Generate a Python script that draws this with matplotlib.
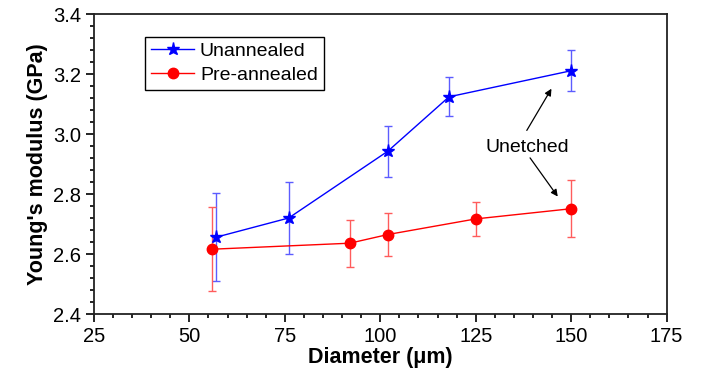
import matplotlib
matplotlib.use("Agg")
import matplotlib.pyplot as plt
from matplotlib.ticker import MultipleLocator, FormatStrFormatter

plt.rcParams['font.family'] = ['Liberation Sans', 'DejaVu Sans']

# Unannealed
d_un = [57, 76, 102, 118, 150]
e_un = [2.656, 2.720, 2.943, 3.124, 3.211]
err_un = [0.147, 0.121, 0.085, 0.065, 0.068]

# Pre-annealed
d_pre = [56, 92, 102, 125, 150]
e_pre = [2.616, 2.636, 2.665, 2.717, 2.751]
err_pre = [0.140, 0.079, 0.073, 0.056, 0.095]

fig = plt.figure(figsize=(7.01, 3.79), dpi=100)
ax = fig.add_axes([0.134, 0.1715, 0.817, 0.7915])

# error bars first, lines + markers on top (legend shows no bars)
ax.errorbar(d_un, e_un, yerr=err_un, fmt='none', elinewidth=1, capsize=3.2,
            capthick=1, ecolor='#5c5cff', zorder=2)
ax.errorbar(d_pre, e_pre, yerr=err_pre, fmt='none', elinewidth=1, capsize=3.2,
            capthick=1, ecolor='#ff5c5c', zorder=2)
ax.plot(d_un, e_un, color='#0000ff', marker='*', markersize=9.5, linewidth=1,
        label='Unannealed', zorder=3)
ax.plot(d_pre, e_pre, color='#ff0000', marker='o', markersize=7.5, linewidth=1,
        label='Pre-annealed', zorder=3)

ax.set_xlim(25, 175)
ax.set_ylim(2.4, 3.4)
ax.xaxis.set_major_locator(MultipleLocator(25))
ax.xaxis.set_minor_locator(MultipleLocator(5))
ax.yaxis.set_major_locator(MultipleLocator(0.2))
ax.yaxis.set_minor_locator(MultipleLocator(0.04))
ax.yaxis.set_major_formatter(FormatStrFormatter('%.1f'))
ax.tick_params(which='both', direction='out', top=False, right=False,
               width=1.2, labelsize=14.5)
ax.tick_params(which='major', length=6, pad=3)
ax.tick_params(which='minor', length=3)
for s in ax.spines.values():
    s.set_linewidth(1.3)
    s.set_color('#222222')

ax.set_xlabel('Diameter (\u03bcm)', fontsize=15.5, fontweight='bold', labelpad=1)
ax.set_ylabel("Young's modulus (GPa)", fontsize=15.5, fontweight='bold', labelpad=4)

leg = ax.legend(loc='upper left', bbox_to_anchor=(0.09, 0.924), fontsize=14,
                frameon=True, fancybox=False, edgecolor='black', framealpha=1,
                handlelength=2.2, borderpad=0.3, labelspacing=0.32,
                handletextpad=0.3, borderaxespad=0)
leg.get_frame().set_linewidth(1)

ax.text(138.4, 2.956, 'Unetched', fontsize=14, ha='center', va='center')
ax.annotate('', xy=(145.2, 3.159), xytext=(138.0, 3.004),
            arrowprops=dict(arrowstyle='-|>', color='black', lw=0.9,
                            mutation_scale=10))
ax.annotate('', xy=(146.9, 2.784), xytext=(138.8, 2.928),
            arrowprops=dict(arrowstyle='-|>', color='black', lw=0.9,
                            mutation_scale=10))

fig.savefig('out.png', dpi=100)
